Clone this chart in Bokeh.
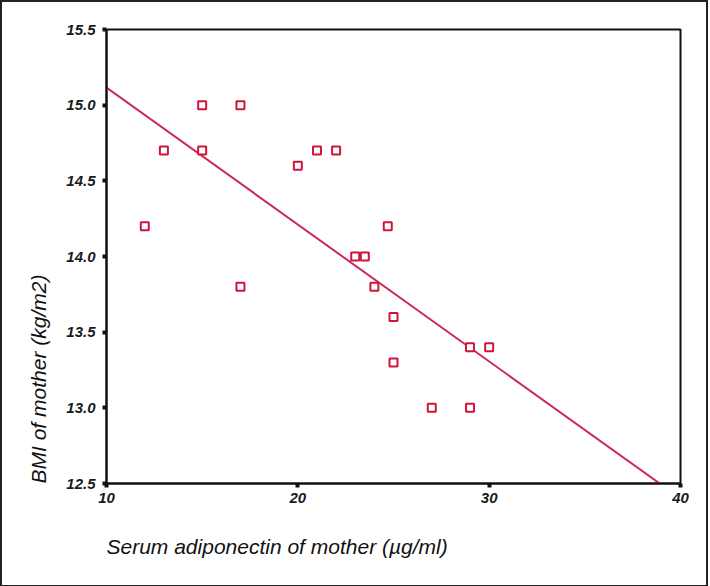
import numpy as np
from bokeh.plotting import figure
from bokeh.models import FixedTicker, PrintfTickFormatter, Title
from bokeh.embed import file_html
from bokeh.resources import INLINE

# Data
adiponectin = [12, 13, 15, 15, 17, 17, 20, 21, 22, 23, 23.5, 24, 24.7, 25, 25, 27, 29, 29, 30]
bmi = [14.2, 14.7, 15.0, 14.7, 15.0, 13.8, 14.6, 14.7, 14.7, 14.0, 14.0, 13.8, 14.2, 13.6, 13.3, 13.0, 13.4, 13.0, 13.4]
x_ticks = [10, 20, 30, 40]
y_ticks = [12.5, 13.0, 13.5, 14.0, 14.5, 15.0, 15.5]
x_title = "Serum adiponectin of mother (\u00b5g/ml)"
y_title = "BMI of mother (kg/m2)"

slope, intercept = np.polyfit(adiponectin, bmi, 1)
fit_x = [x_ticks[0], x_ticks[-1]]
fit_y = [intercept + slope * v for v in fit_x]

p = figure(frame_width=574, frame_height=454, output_backend="svg", toolbar_location=None,
           x_range=(10, 40), y_range=(12.5, 15.5),
           min_border_left=104, min_border_top=27, min_border_right=26, min_border_bottom=99)
p.styles = {"border": "2px solid #222"}
p.xgrid.visible = False
p.ygrid.visible = False
p.outline_line_color = "#111111"
p.outline_line_width = 2
p.background_fill_color = "white"
p.border_fill_color = "white"

for ax in (p.xaxis[0], p.yaxis[0]):
    ax.axis_line_color = "#111111"
    ax.axis_line_width = 2
    ax.major_tick_line_color = "#111111"
    ax.major_tick_line_width = 4
    ax.major_tick_out = 4
    ax.major_tick_in = 0
    ax.minor_tick_line_color = None
    ax.major_label_text_font = "Liberation Sans"
    ax.major_label_text_font_style = "bold italic"
    ax.major_label_text_font_size = "15px"
    ax.major_label_text_color = "#1a1a1a"

p.xaxis.ticker = FixedTicker(ticks=x_ticks)
p.yaxis.ticker = FixedTicker(ticks=y_ticks)
p.yaxis.formatter = PrintfTickFormatter(format="%.1f")
p.xaxis.major_label_standoff = 5
p.yaxis.major_label_standoff = 7

p.line(fit_x, fit_y, line_color="#cc2a55", line_width=2)
p.scatter(adiponectin, bmi, marker="square", size=8, fill_color="white",
          line_color="#d0143c", line_width=2)

p.add_layout(Title(text=x_title, align="left", offset=0, standoff=55,
                   text_font="Liberation Sans", text_font_style="italic",
                   text_font_size="21px", text_color="#111111"), "below")
p.add_layout(Title(text=y_title, align="left", offset=0, standoff=27,
                   text_font="Liberation Sans", text_font_style="italic",
                   text_font_size="21px", text_color="#111111"), "left")

open("out.html", "w").write(file_html(p, INLINE))
